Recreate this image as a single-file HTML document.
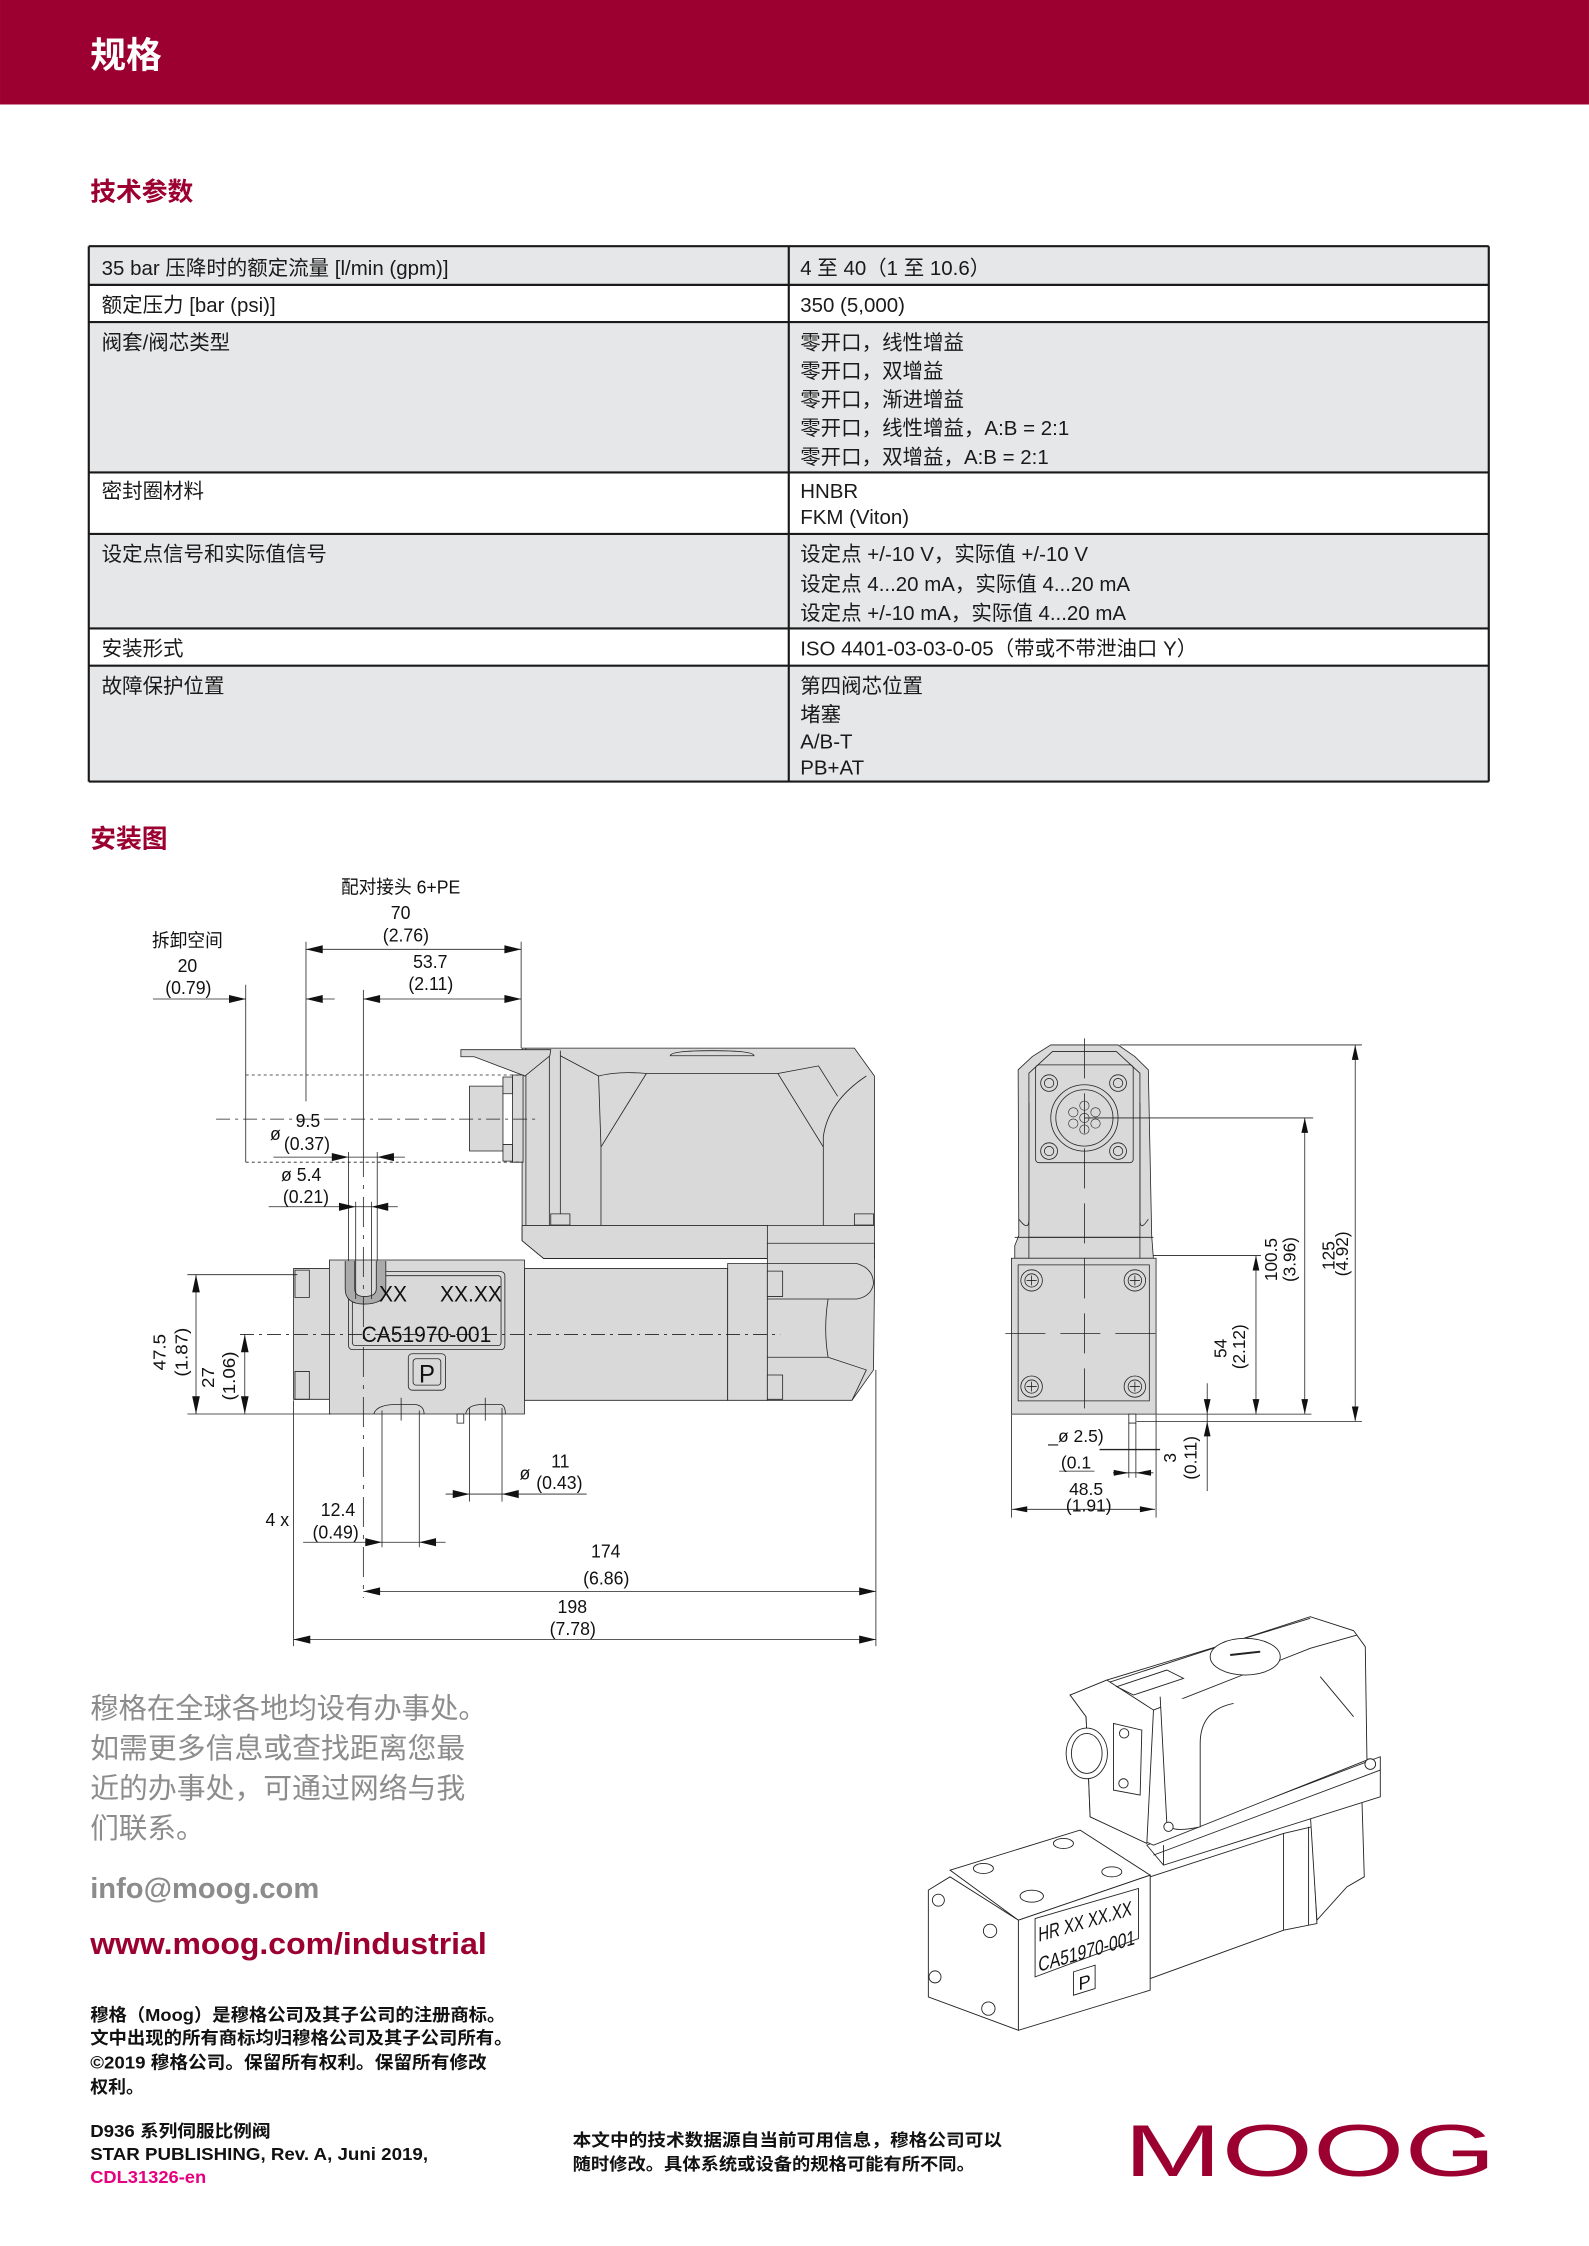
<!DOCTYPE html>
<html><head><meta charset="utf-8"><style>
html,body{margin:0;padding:0;background:#fff;}
svg{display:block;}
text{font-family:"Liberation Sans","Noto Sans CJK SC",sans-serif;}
.d line,.d rect,.d polygon,.d path,.d circle,.d ellipse,.d polyline{vector-effect:non-scaling-stroke;}
</style></head><body>
<svg width="1589" height="2246" viewBox="0 0 1110 1569" xmlns="http://www.w3.org/2000/svg">
<rect x="0" y="0" width="1110" height="73" fill="#9b0030"/>
<text x="63" y="47" font-size="25" font-weight="bold" fill="#fff">规格</text>
<text x="63" y="140" font-size="18" font-weight="bold" fill="#9b0030">技术参数</text>

<!-- table -->
<g>
<rect x="62" y="172" width="978" height="27" fill="#e6e7e8"/>
<rect x="62" y="225" width="978" height="105" fill="#e6e7e8"/>
<rect x="62" y="373" width="978" height="66" fill="#e6e7e8"/>
<rect x="62" y="465" width="978" height="81" fill="#e6e7e8"/>
<g stroke="#1a1a1a" stroke-width="1.5">
<line x1="62" y1="172" x2="1040" y2="172"/><line x1="62" y1="199" x2="1040" y2="199"/>
<line x1="62" y1="225" x2="1040" y2="225"/><line x1="62" y1="330" x2="1040" y2="330"/>
<line x1="62" y1="373" x2="1040" y2="373"/><line x1="62" y1="439" x2="1040" y2="439"/>
<line x1="62" y1="465" x2="1040" y2="465"/><line x1="62" y1="546" x2="1040" y2="546"/>
<line x1="62" y1="172" x2="62" y2="546"/><line x1="551" y1="172" x2="551" y2="546"/><line x1="1040" y1="172" x2="1040" y2="546"/>
</g>
<g font-size="14.3" fill="#1a1a1a">
<text x="71" y="192">35 bar 压降时的额定流量 [l/min (gpm)]</text>
<text x="559" y="192">4 至 40（1 至 10.6）</text>
<text x="71" y="218">额定压力 [bar (psi)]</text>
<text x="559" y="218">350 (5,000)</text>
<text x="71" y="244">阀套/阀芯类型</text>
<text x="559" y="244">零开口，线性增益</text>
<text x="559" y="264">零开口，双增益</text>
<text x="559" y="284">零开口，渐进增益</text>
<text x="559" y="304">零开口，线性增益，A:B = 2:1</text>
<text x="559" y="324">零开口，双增益，A:B = 2:1</text>
<text x="71" y="348">密封圈材料</text>
<text x="559" y="348">HNBR</text>
<text x="559" y="366">FKM (Viton)</text>
<text x="71" y="392">设定点信号和实际值信号</text>
<text x="559" y="392">设定点 +/-10 V，实际值 +/-10 V</text>
<text x="559" y="413">设定点 4...20 mA，实际值 4...20 mA</text>
<text x="559" y="433">设定点 +/-10 mA，实际值 4...20 mA</text>
<text x="71" y="458">安装形式</text>
<text x="559" y="458">ISO 4401-03-03-0-05（带或不带泄油口 Y）</text>
<text x="71" y="484">故障保护位置</text>
<text x="559" y="484">第四阀芯位置</text>
<text x="559" y="504">堵塞</text>
<text x="559" y="523">A/B-T</text>
<text x="559" y="541">PB+AT</text>
</g>
</g>

<text x="63" y="592" font-size="18" font-weight="bold" fill="#9b0030">安装图</text>

<!-- side view -->
<g class="d" transform="translate(97.5,603) scale(0.334,0.354)" fill="none" stroke="#222" stroke-width="0.8">
<polygon points="800,365 1495,365 1537,420 1537,780 845,780 800,745" fill="#d9d9d9"/>
<path d="M1110,380 Q1110,370 1197,370 Q1285,370 1285,380 Z" fill="#d9d9d9"/>
<line x1="800" y1="715" x2="1537" y2="715"/>
<line x1="808" y1="365" x2="808" y2="715"/><line x1="857" y1="370" x2="857" y2="715"/><line x1="880" y1="370" x2="880" y2="715"/>
<path d="M880,380 L960,420 L965,560 L965,715"/><path d="M1060,415 L965,560"/>
<path d="M1060,415 Q1200,415 1335,415 L1430,560"/>
<path d="M1430,715 L1430,540 Q1440,470 1520,420"/>
<path d="M1335,415 L1420,400 L1460,460"/>
<path d="M960,420 Q1000,410 1060,415"/>
<rect x="860" y="692" width="40" height="22" fill="#d9d9d9"/><rect x="1495" y="692" width="40" height="22" fill="#d9d9d9"/>
<polygon points="672,368 860,368 858,380 806,420 700,382 672,382" fill="#d9d9d9"/>
<rect x="690" y="440" width="70" height="128" fill="#d9d9d9"/>
<rect x="760" y="422" width="20" height="33" fill="#d9d9d9"/><rect x="760" y="555" width="20" height="33" fill="#d9d9d9"/>
<rect x="780" y="418" width="22" height="172" fill="#d9d9d9"/>
<polygon points="800,715 1313,715 1313,780 845,780 800,745" fill="#d9d9d9"/>
<rect x="805" y="800" width="425" height="260" fill="#d9d9d9"/>
<rect x="1230" y="790" width="83" height="270" fill="#d9d9d9"/>
<polygon points="1313,750 1537,750 1537,830 1535,1000 1490,1060 1313,1060" fill="#d9d9d9"/>
<path d="M1313,790 L1500,790 Q1535,800 1535,830 Q1530,855 1500,860 L1313,860"/>
<path d="M1313,975 L1440,975 L1520,1000 L1490,1060"/>
<path d="M1440,860 Q1430,920 1440,975"/>
<rect x="1313" y="805" width="32" height="50" fill="#d9d9d9"/><rect x="1313" y="1010" width="32" height="48" fill="#d9d9d9"/>
<rect x="322" y="800" width="75" height="258" fill="#d9d9d9"/>
<rect x="325" y="803" width="30" height="54"/><rect x="325" y="1003" width="30" height="55"/>
<rect x="397" y="783" width="408" height="304" fill="#d9d9d9"/>
<rect x="437" y="806" width="327" height="154" rx="8"/>
<rect x="445" y="814" width="311" height="138" rx="6"/>
<rect x="562" y="968" width="78" height="72" rx="8"/><rect x="572" y="978" width="58" height="52" rx="6"/>
<path d="M430,785 L430,840 Q430,870 470,870 Q515,870 515,840 L515,785" fill="#aaa"/>
<path d="M450,785 L450,840 Q450,855 470,855 Q495,855 495,840 L495,785" fill="#d9d9d9"/>
<path d="M490,1087 Q495,1068 540,1068 L575,1068 Q595,1070 595,1087"/>
<path d="M682,1087 Q685,1068 720,1068 L755,1068 Q765,1070 765,1087"/>
<rect x="664" y="1087" width="14" height="18"/>
<line x1="348" y1="170" x2="798" y2="170"/>
<line x1="468" y1="268" x2="798" y2="268"/>
<line x1="28" y1="268" x2="222" y2="268"/><line x1="348" y1="268" x2="408" y2="268"/>
<line x1="348" y1="155" x2="348" y2="470"/><line x1="798" y1="155" x2="798" y2="365"/>
<line x1="222" y1="240" x2="222" y2="590"/>
<line x1="468" y1="250" x2="468" y2="560"/>
<line x1="468" y1="560" x2="468" y2="1450" stroke-dasharray="30,8,4,8"/>
<line x1="222" y1="418" x2="800" y2="418" stroke-dasharray="3,3"/>
<line x1="222" y1="590" x2="800" y2="590" stroke-dasharray="3,3"/>
<line x1="160" y1="505" x2="830" y2="505" stroke-dasharray="14,5,3,5"/>
<line x1="280" y1="580" x2="555" y2="580"/>
<line x1="270" y1="678" x2="540" y2="678"/>
<line x1="437" y1="570" x2="437" y2="785"/><line x1="497" y1="570" x2="497" y2="785"/>
<line x1="452" y1="668" x2="452" y2="860"/><line x1="485" y1="668" x2="485" y2="860"/>
<line x1="118" y1="812" x2="118" y2="1087"/><line x1="100" y1="812" x2="330" y2="812"/><line x1="100" y1="1087" x2="400" y2="1087"/>
<line x1="220" y1="930" x2="220" y2="1087"/>
<line x1="210" y1="930" x2="1340" y2="930" stroke-dasharray="14,5,3,5"/>
<line x1="640" y1="1245" x2="935" y2="1245"/>
<line x1="690" y1="1075" x2="690" y2="1260"/><line x1="758" y1="1075" x2="758" y2="1260"/>
<line x1="547" y1="1055" x2="547" y2="1100"/><line x1="723" y1="1055" x2="723" y2="1100"/>
<line x1="342" y1="1340" x2="640" y2="1340"/>
<line x1="507" y1="1080" x2="507" y2="1350"/><line x1="585" y1="1080" x2="585" y2="1350"/>
<line x1="468" y1="1437" x2="1540" y2="1437"/>
<line x1="322" y1="1532" x2="1540" y2="1532"/>
<line x1="322" y1="1060" x2="322" y2="1545"/><line x1="1540" y1="1000" x2="1540" y2="1545"/>
</g>
<g transform="translate(97.5,603) scale(0.334,0.354)" fill="#111">
<polygon points="348,170 383,162 383,178"/><polygon points="798,170 763,162 763,178"/>
<polygon points="468,268 503,260 503,276"/><polygon points="798,268 763,260 763,276"/>
<polygon points="222,268 187,260 187,276"/><polygon points="348,268 383,260 383,276"/>
<polygon points="437,580 402,572 402,588"/><polygon points="497,580 532,572 532,588"/>
<polygon points="452,678 417,670 417,686"/><polygon points="485,678 520,670 520,686"/>
<polygon points="118,812 110,847 126,847"/><polygon points="118,1087 110,1052 126,1052"/>
<polygon points="220,930 212,965 228,965"/><polygon points="220,1087 212,1052 228,1052"/>
<polygon points="690,1245 655,1237 655,1253"/><polygon points="758,1245 793,1237 793,1253"/>
<polygon points="507,1340 472,1332 472,1348"/><polygon points="585,1340 620,1332 620,1348"/>
<polygon points="468,1437 503,1429 503,1445"/><polygon points="1540,1437 1505,1429 1505,1445"/>
<polygon points="322,1532 357,1524 357,1540"/><polygon points="1540,1532 1505,1524 1505,1540"/>
<g font-size="37" text-anchor="middle">
<text x="546" y="60">配对接头  6+PE</text>
<text x="546" y="110">70</text><text x="557" y="155">(2.76)</text>
<text x="608" y="207">53.7</text><text x="609" y="250">(2.11)</text>
<text x="100" y="165">拆卸空间</text><text x="100" y="215">20</text><text x="102" y="258">(0.79)</text>
<text x="352" y="521">9.5</text><text x="284" y="546">ø</text><text x="350" y="566">(0.37)</text>
<text x="338" y="627">ø 5.4</text><text x="348" y="671">(0.21)</text>
<text x="880" y="1193">11</text><text x="806" y="1216">ø</text><text x="878" y="1235">(0.43)</text>
<text x="288" y="1308">4 x</text><text x="415" y="1288">12.4</text><text x="410" y="1333">(0.49)</text>
<text x="975" y="1370">174</text><text x="976" y="1423">(6.86)</text>
<text x="905" y="1480">198</text><text x="906" y="1523">(7.78)</text>
<text transform="translate(54,965) rotate(-90)">47.5</text>
<text transform="translate(100,965) rotate(-90)">(1.87)</text>
<text transform="translate(156,1015) rotate(-90)">27</text>
<text transform="translate(200,1012) rotate(-90)">(1.06)</text>
<text x="530" y="865" font-size="44">XX</text><text x="693" y="865" font-size="44">XX.XX</text>
<text x="600" y="945" font-size="44">CA51970-001</text>
<text x="601" y="1025" font-size="50">P</text>
</g>
</g>

<!-- end view -->
<g class="d" transform="translate(683.5,712.6) scale(0.235,0.2317)" fill="none" stroke="#222" stroke-width="0.8">
<polygon points="108,718 108,680 120,650 118,150 160,110 215,75 415,75 465,110 505,150 515,650 520,718" fill="#d9d9d9"/>
<polygon points="150,160 220,95 410,95 480,160 480,655 150,655" fill="#d9d9d9"/>
<line x1="108" y1="655" x2="520" y2="655"/><line x1="150" y1="655" x2="150" y2="718"/><line x1="480" y1="655" x2="480" y2="718"/>
<path d="M120,600 Q150,640 150,600 L150,250"/><path d="M505,600 Q480,640 480,600 L480,250"/>
<rect x="170" y="135" width="290" height="295" rx="10"/>
<circle cx="315" cy="295" r="100"/><circle cx="315" cy="295" r="85"/>
<g stroke-width="0.6"><circle cx="315" cy="258" r="14"/><circle cx="282" cy="278" r="14"/><circle cx="348" cy="278" r="14"/><circle cx="282" cy="312" r="14"/><circle cx="348" cy="312" r="14"/><circle cx="315" cy="330" r="14"/><circle cx="315" cy="295" r="14"/></g>
<circle cx="210" cy="190" r="25"/><circle cx="210" cy="190" r="14"/>
<circle cx="415" cy="190" r="25"/><circle cx="415" cy="190" r="14"/>
<circle cx="210" cy="395" r="25"/><circle cx="210" cy="395" r="14"/>
<circle cx="415" cy="395" r="25"/><circle cx="415" cy="395" r="14"/>
<rect x="98" y="718" width="430" height="470" fill="#d9d9d9"/>
<polygon points="118,738 508,738 508,1148 118,1148" />
<g><circle cx="158" cy="785" r="32"/><circle cx="158" cy="785" r="20"/><circle cx="465" cy="785" r="32"/><circle cx="465" cy="785" r="20"/><circle cx="158" cy="1105" r="32"/><circle cx="158" cy="1105" r="20"/><circle cx="465" cy="1105" r="32"/><circle cx="465" cy="1105" r="20"/>
<path d="M143,785 H173 M158,770 V800 M450,785 H480 M465,770 V800 M143,1105 H173 M158,1090 V1120 M450,1105 H480 M465,1090 V1120"/></g>
<line x1="315" y1="55" x2="315" y2="1200" stroke-dasharray="40,15"/>
<line x1="80" y1="945" x2="545" y2="945" stroke-dasharray="40,15"/>
<rect x="447" y="1188" width="21" height="27"/>
<line x1="420" y1="75" x2="1140" y2="75"/><line x1="1120" y1="75" x2="1120" y2="1210"/><line x1="470" y1="1210" x2="1140" y2="1210"/>
<line x1="315" y1="295" x2="995" y2="295"/><line x1="970" y1="295" x2="970" y2="1188"/><line x1="528" y1="1188" x2="990" y2="1188"/>
<line x1="520" y1="710" x2="840" y2="710"/><line x1="825" y1="710" x2="825" y2="1188"/>
<line x1="680" y1="1095" x2="680" y2="1420"/>
<line x1="447" y1="1215" x2="447" y2="1380"/><line x1="468" y1="1215" x2="468" y2="1380"/>
<line x1="400" y1="1365" x2="520" y2="1365"/>
<line x1="360" y1="1295" x2="540" y2="1295" stroke-width="1.4"/>
<line x1="240" y1="1360" x2="345" y2="1360"/>
<line x1="100" y1="1475" x2="525" y2="1475"/>
<line x1="98" y1="1190" x2="98" y2="1500"/><line x1="528" y1="1190" x2="528" y2="1500"/>
</g>
<g transform="translate(683.5,712.6) scale(0.235,0.2317)" fill="#111">
<polygon points="1120,75 1110,120 1130,120"/><polygon points="1120,1210 1110,1165 1130,1165"/>
<polygon points="970,295 960,340 980,340"/><polygon points="970,1188 960,1143 980,1143"/>
<polygon points="825,710 815,755 835,755"/><polygon points="825,1188 815,1143 835,1143"/>
<polygon points="680,1188 670,1143 690,1143"/><polygon points="680,1210 670,1255 690,1255"/>
<polygon points="447,1365 402,1356 402,1374"/><polygon points="468,1365 513,1356 513,1374"/>
<polygon points="100,1475 145,1466 145,1484"/><polygon points="525,1475 480,1466 480,1484"/>
<g font-size="52" text-anchor="middle">
<text transform="translate(1058,710) rotate(-90)">125</text>
<text transform="translate(1098,705) rotate(-90)">(4.92)</text>
<text transform="translate(888,722) rotate(-90)">100.5</text>
<text transform="translate(942,722) rotate(-90)">(3.96)</text>
<text transform="translate(738,990) rotate(-90)">54</text>
<text transform="translate(793,985) rotate(-90)">(2.12)</text>
<text transform="translate(588,1320) rotate(-90)">3</text>
<text transform="translate(648,1320) rotate(-90)">(0.11)</text>
<text x="290" y="1272">_ø 2.5)</text>
<text x="290" y="1352">(0.1</text>
<text x="320" y="1432">48.5</text><text x="328" y="1482">(1.91)</text>
</g>
</g>

<!-- iso view -->
<g class="d" transform="translate(628.7,1124.7) scale(0.233)" fill="#fff" stroke="#222" stroke-width="0.9">
<polygon points="750,800 1150,670 1235,650 1250,940 1150,960 750,1105"/>
<polygon points="1230,610 1385,570 1392,800 1340,830 1250,930"/>
<line x1="1150" y1="670" x2="1150" y2="960"/><line x1="1225" y1="650" x2="1225" y2="945"/>
<polygon points="740,705 1440,440 1440,560 790,765"/>
<line x1="790" y1="765" x2="790" y2="705"/><line x1="760" y1="735" x2="1440" y2="480"/>
<polygon points="510,255 1230,20 1360,62 1395,110 1400,450 760,705 570,620 558,320"/>
<polygon points="510,255 620,210 760,300 740,700 570,620 558,320"/>
<path d="M760,300 L1230,115 L1370,75"/>
<path d="M620,210 L1230,25"/>
<path d="M780,260 L800,640 Q810,670 900,650 L900,400 Q900,300 1000,280"/>
<line x1="1260" y1="200" x2="1360" y2="320"/>
<ellipse cx="1035" cy="140" rx="105" ry="55"/>
<line x1="990" y1="135" x2="1080" y2="125" stroke-width="2"/>
<polygon points="650,230 800,180 850,205 700,255" fill="#fff"/>
<polygon points="640,340 725,360 720,555 640,540"/>
<ellipse cx="560" cy="430" rx="62" ry="76"/><ellipse cx="560" cy="430" rx="46" ry="60"/>
<circle cx="672" cy="370" r="14"/><circle cx="670" cy="520" r="14"/>
<polygon points="150,780 540,660 750,795 355,930"/>
<polygon points="85,840 150,800 355,930 355,1260 85,1160"/>
<polygon points="355,930 750,795 750,1140 355,1260"/>
<ellipse cx="250" cy="775" rx="30" ry="15"/><ellipse cx="395" cy="858" rx="35" ry="18"/>
<ellipse cx="490" cy="700" rx="30" ry="15"/><ellipse cx="635" cy="785" rx="30" ry="15"/>
<circle cx="115" cy="870" r="18"/><circle cx="270" cy="962" r="20"/><circle cx="105" cy="1100" r="18"/><circle cx="265" cy="1195" r="20"/>
<polygon points="405,925 715,835 715,985 405,1100"/>
<polygon points="520,1085 585,1065 585,1135 520,1155"/>
<circle cx="1410" cy="462" r="16"/><circle cx="805" cy="650" r="14"/>
</g>
<g transform="translate(628.7,1124.7) scale(0.233)" fill="#111" font-size="62">
<text transform="translate(415,995) skewY(-16)" textLength="280" lengthAdjust="spacingAndGlyphs">HR XX   XX.XX</text>
<text transform="translate(415,1085) skewY(-16)" textLength="290" lengthAdjust="spacingAndGlyphs">CA51970-001</text>
<text transform="translate(535,1140) skewY(-16)" font-size="55">P</text>
</g>

<!-- contact -->
<g font-size="20" fill="#8c8c8c">
<text x="63" y="1200" textLength="277" lengthAdjust="spacingAndGlyphs">穆格在全球各地均设有办事处。</text>
<text x="63" y="1228" textLength="262" lengthAdjust="spacingAndGlyphs">如需更多信息或查找距离您最</text>
<text x="63" y="1256" textLength="262" lengthAdjust="spacingAndGlyphs">近的办事处，可通过网络与我</text>
<text x="63" y="1284">们联系。</text>
</g>
<text x="63" y="1326" font-size="20" font-weight="bold" fill="#8c8c8c" textLength="160" lengthAdjust="spacingAndGlyphs">info@moog.com</text>
<text x="63" y="1365" font-size="21.5" font-weight="bold" fill="#9b0030" textLength="277" lengthAdjust="spacingAndGlyphs">www.moog.com/industrial</text>
<g font-size="12.5" font-weight="bold" fill="#111">
<text x="63" y="1412" textLength="290" lengthAdjust="spacingAndGlyphs">穆格（Moog）是穆格公司及其子公司的注册商标。</text>
<text x="63" y="1428" textLength="295" lengthAdjust="spacingAndGlyphs">文中出现的所有商标均归穆格公司及其子公司所有。</text>
<text x="63" y="1445" textLength="277" lengthAdjust="spacingAndGlyphs">©2019 穆格公司。保留所有权利。保留所有修改</text>
<text x="63" y="1462">权利。</text>
</g>
<g font-size="12" font-weight="bold" fill="#111">
<text x="63" y="1493" textLength="126" lengthAdjust="spacingAndGlyphs">D936 系列伺服比例阀</text>
<text x="63" y="1509" textLength="236" lengthAdjust="spacingAndGlyphs">STAR PUBLISHING, Rev. A, Juni 2019,</text>
<text x="63" y="1525" fill="#e4007f" textLength="81" lengthAdjust="spacingAndGlyphs">CDL31326-en</text>
<text x="400" y="1499" textLength="300" lengthAdjust="spacingAndGlyphs">本文中的技术数据源自当前可用信息，穆格公司可以</text>
<text x="400" y="1516" textLength="281" lengthAdjust="spacingAndGlyphs">随时修改。具体系统或设备的规格可能有所不同。</text>
</g>
<text x="785" y="1520" font-size="51" fill="#9b0030" textLength="260" lengthAdjust="spacingAndGlyphs">MOOG</text>
</svg>
</body></html>
